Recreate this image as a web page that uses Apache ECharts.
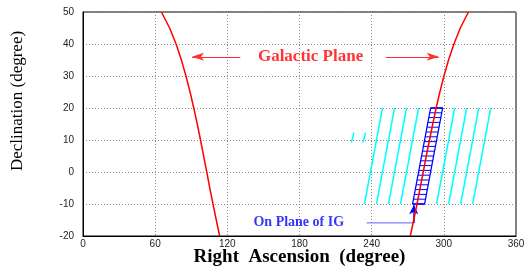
<!DOCTYPE html>
<html>
<head>
<meta charset="utf-8">
<script src="https://cdn.jsdelivr.net/npm/echarts@6/dist/echarts.min.js"></script>
<style>
  html, body { margin: 0; padding: 0; background: #fff; }
  #chart { width: 526px; height: 271px; }
</style>
</head>
<body>
<div id="chart"></div>
<script>
// galactic plane (dec -> RA of both branches)
const planeDec   = [-20, -15, -10, -5, 0, 5, 10, 15, 20, 25, 30, 35, 40, 45, 50];
const planeLeft  = [113.6, 110.8, 108.1, 105.4, 102.9, 100.3, 97.7, 95.0, 92.1, 89.0, 85.6, 81.8, 77.4, 72.0, 65.2];
const planeRight = [272.1, 275.0, 277.7, 280.3, 282.9, 285.4, 288.1, 290.8, 293.6, 296.7, 300.1, 303.9, 308.4, 313.7, 320.5];

// cyan scan lines: RA at dec -10 and at dec 20
const scanDecLow = -10;
const scanDecHigh = 20;
const scanRaLow  = [234, 244, 254, 264, 294, 304, 314, 324];
const scanRaHigh = [249, 259, 269, 279, 309, 319, 329, 339];
// the two short cyan bits
const bitRaLow  = [223.1, 232.8];
const bitRaHigh = [225.3, 235.0];
const bitDec = [9.2, 12.3];

// IG box (blue) corners and its rungs
const boxCorners = [[274, -10], [284, -10], [299, 20], [289, 20], [274, -10]];
const rungDec   = [-10, -8.5, -7, -5.5, -4, -2.5, -1, 0.5, 2, 3.5, 5, 6.5, 8, 9.5, 11, 12.5, 14, 15.5, 17, 18.5, 20];
const rungLeft  = [274, 274.75, 275.5, 276.25, 277, 277.75, 278.5, 279.25, 280, 280.75, 281.5, 282.25, 283, 283.75, 284.5, 285.25, 286, 286.75, 287.5, 288.25, 289];
const rungRight = [284, 284.75, 285.5, 286.25, 287, 287.75, 288.5, 289.25, 290, 290.75, 291.5, 292.25, 293, 293.75, 294.5, 295.25, 296, 296.75, 297.5, 298.25, 299];

var chart = echarts.init(document.getElementById('chart'));

var series = [];
series.push({
  type: 'line', showSymbol: false, silent: true,
  lineStyle: { color: '#ff0000', width: 1.5 },
  data: planeDec.map((d, i) => [planeLeft[i], d]),
  markLine: {
    silent: true, symbol: ['none', 'arrow'], symbolSize: [6, 12],
    label: { show: false },
    lineStyle: { color: '#ff3030', width: 1, type: 'solid' },
    data: [
      [{ coord: [130.8, 36] }, { coord: [90.6, 36] }],
      [{ coord: [251.7, 36] }, { coord: [295.8, 36] }]
    ]
  }
});
series.push({
  type: 'line', showSymbol: false, silent: true,
  lineStyle: { color: '#ff0000', width: 1.5 },
  data: planeDec.map((d, i) => [planeRight[i], d]),
  z: 5
});
scanRaLow.forEach(function (ra, i) {
  series.push({
    type: 'line', showSymbol: false, silent: true,
    lineStyle: { color: '#00ffff', width: 1.5 },
    data: [[ra, scanDecLow], [scanRaHigh[i], scanDecHigh]]
  });
});
bitRaLow.forEach(function (ra, i) {
  series.push({
    type: 'line', showSymbol: false, silent: true,
    lineStyle: { color: '#00ffff', width: 1.5 },
    data: [[ra, bitDec[0]], [bitRaHigh[i], bitDec[1]]]
  });
});
series.push({
  type: 'line', showSymbol: false, silent: true,
  lineStyle: { color: '#0000ff', width: 1.3 },
  data: boxCorners
});
rungDec.forEach(function (d, i) {
  series.push({
    type: 'line', showSymbol: false, silent: true,
    lineStyle: { color: '#0000ff', width: 1 },
    data: [[rungLeft[i], d], [rungRight[i], d]]
  });
});
// pointer to the box
series.push({
  type: 'line', showSymbol: false, silent: true,
  lineStyle: { color: '#6060ff', width: 1 },
  data: [[235.8, -15.9], [275, -15.9]],
  markLine: {
    silent: true, symbol: ['none', 'arrow'], symbolSize: [7, 9],
    label: { show: false },
    lineStyle: { color: '#0000ff', width: 1.5, type: 'solid' },
    data: [[{ coord: [275, -15.9] }, { coord: [275, -10.4] }]]
  }
});
// labels
series.push({
  type: 'scatter', symbolSize: 0, silent: true,
  data: [
    { value: [189.2, 36], label: { formatter: 'Galactic Plane', color: '#ff0000', fontSize: 17 } },
    { value: [179.4, -15.9], label: { formatter: 'On Plane of IG', color: '#0000ff', fontSize: 14 } }
  ],
  label: {
    show: true, position: 'inside',
    fontFamily: 'Liberation Serif', fontWeight: 'bold'
  }
});

chart.setOption({
  animation: false,
  backgroundColor: '#fff',
  grid: { left: 83, right: 10, top: 12, bottom: 35, show: true, borderColor: '#000', borderWidth: 1,
    outerBoundsMode: 'none', containLabel: false },
  xAxis: {
    type: 'value', min: 0, max: 360, interval: 60,
    name: 'Right  Ascension  (degree)', nameLocation: 'middle', nameGap: 12, nameMoveOverlap: false,
    nameTextStyle: { fontFamily: 'Liberation Serif', fontWeight: 'bold', fontSize: 19, color: '#000' },
    axisLine: { show: true, onZero: false, lineStyle: { color: '#000', width: 1 } },
    axisTick: { show: false },
    axisLabel: { margin: 3, fontFamily: 'Liberation Sans', fontSize: 10, color: '#222' },
    splitLine: { show: true, lineStyle: { color: '#888', type: [1, 2], width: 1 } }
  },
  yAxis: {
    type: 'value', min: -20, max: 50, interval: 10,
    axisLine: { show: true, onZero: false, lineStyle: { color: '#000', width: 1 } },
    axisTick: { show: false },
    axisLabel: { margin: 9, fontFamily: 'Liberation Sans', fontSize: 10, color: '#222' },
    splitLine: { show: true, lineStyle: { color: '#888', type: [1, 2], width: 1 } }
  },
  graphic: [{
    type: 'text', x: 18, y: 101, rotation: Math.PI / 2,
    style: { text: 'Declination (degree)', fontFamily: 'Liberation Serif', fontSize: 17,
      fill: '#000', align: 'center', verticalAlign: 'middle' }
  }],
  series: series
});
</script>
</body>
</html>
